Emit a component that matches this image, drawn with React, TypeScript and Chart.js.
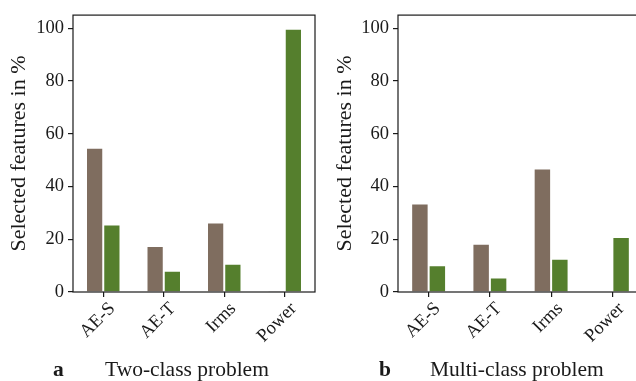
import React, { useEffect, useRef } from "react";
import { Chart, registerables } from "chart.js";

Chart.register(...registerables);

const categories = ["AE-S", "AE-T", "Irms", "Power"];
const twoClassBrown = [54.7, 17.4, 26.4, 0.4];
const twoClassGreen = [25.6, 8.1, 10.7, 99.8];
const multiClassBrown = [33.6, 18.3, 46.8, 0];
const multiClassGreen = [10.1, 5.5, 12.6, 20.9];
const yTickValues = [0, 20, 40, 60, 80, 100];
const yMax = 105;
const yTitle = "Selected features in %";

const BROWN = "#7f6d5f";
const GREEN = "#557f2d";
const INK = "#1a1a1a";
const FONT = "'Liberation Serif', 'DejaVu Serif', serif";

const boxPlugin = {
  id: "box",
  afterDraw(chart: any) {
    const { ctx, chartArea: a } = chart;
    ctx.save();
    ctx.strokeStyle = INK;
    ctx.lineWidth = 1.2;
    ctx.strokeRect(a.left, a.top, a.right - a.left, a.bottom - a.top);
    ctx.restore();
  },
};

function makeChart(
  canvas: HTMLCanvasElement,
  brown: number[],
  green: number[],
  yWidth: number,
  padRight: number,
  titlePadTop: number
) {
  return new Chart(canvas, {
    type: "bar",
    data: {
      labels: categories,
      datasets: [
        {
          data: brown,
          backgroundColor: BROWN,
          borderColor: "#ffffff",
          borderWidth: 1,
          categoryPercentage: 0.57,
          barPercentage: 1,
        },
        {
          data: green,
          backgroundColor: GREEN,
          borderColor: "#ffffff",
          borderWidth: 1,
          categoryPercentage: 0.57,
          barPercentage: 1,
        },
      ],
    },
    options: {
      responsive: false,
      animation: false,
      layout: { padding: { top: 14, right: padRight, left: 0, bottom: 0 } },
      plugins: {
        legend: { display: false },
        tooltip: { enabled: false },
        title: { display: false },
      },
      scales: {
        x: {
          border: { display: false },
          grid: {
            display: true,
            offset: false,
            drawOnChartArea: false,
            drawTicks: true,
            tickLength: 5,
            color: INK,
            lineWidth: 1.2,
          },
          ticks: {
            color: INK,
            font: { family: FONT, size: 18.5 },
            minRotation: 45,
            maxRotation: 45,
            padding: 1,
            labelOffset: 9,
          },
          afterFit: (s: any) => {
            s.height = 89;
          },
        },
        y: {
          min: 0,
          max: yMax,
          border: { display: false },
          grid: {
            display: true,
            drawOnChartArea: false,
            drawTicks: true,
            tickLength: 5,
            color: INK,
            lineWidth: 1.2,
          },
          ticks: {
            color: INK,
            font: { family: FONT, size: 18.5 },
            padding: 4,
            stepSize: 20,
          },
          afterBuildTicks: (s: any) => {
            s.ticks = yTickValues.map((v) => ({ value: v }));
          },
          title: {
            display: true,
            text: yTitle,
            color: INK,
            font: { family: FONT, size: 22 },
            padding: { top: titlePadTop, bottom: 0 },
          },
          afterFit: (s: any) => {
            s.width = yWidth;
          },
        },
      },
    },
    plugins: [boxPlugin],
  });
}

const captionStyle: React.CSSProperties = {
  position: "absolute",
  fontFamily: FONT,
  fontSize: 21.5,
  lineHeight: "21px",
  color: INK,
  whiteSpace: "nowrap",
};

export default function App() {
  const leftRef = useRef<HTMLCanvasElement>(null);
  const rightRef = useRef<HTMLCanvasElement>(null);

  useEffect(() => {
    const c1 = makeChart(leftRef.current!, twoClassBrown, twoClassGreen, 73, 5, 6);
    const c2 = makeChart(rightRef.current!, multiClassBrown, multiClassGreen, 78, 7, 12);
    return () => {
      c1.destroy();
      c2.destroy();
    };
  }, []);

  return (
    <div
      style={{
        position: "fixed",
        left: 0,
        top: 0,
        width: 636,
        height: 381,
        overflow: "hidden",
        background: "#ffffff",
      }}
    >
      <canvas
        ref={leftRef}
        width={320}
        height={381}
        style={{ position: "absolute", left: 0, top: 0, width: 320, height: 381 }}
      />
      <canvas
        ref={rightRef}
        width={330}
        height={381}
        style={{ position: "absolute", left: 320, top: 0, width: 330, height: 381 }}
      />
      <div style={{ ...captionStyle, left: 53, top: 359, fontWeight: "bold" }}>a</div>
      <div style={{ ...captionStyle, left: 105, top: 359 }}>Two-class problem</div>
      <div style={{ ...captionStyle, left: 379, top: 359, fontWeight: "bold" }}>b</div>
      <div style={{ ...captionStyle, left: 430, top: 359 }}>Multi-class problem</div>
    </div>
  );
}
